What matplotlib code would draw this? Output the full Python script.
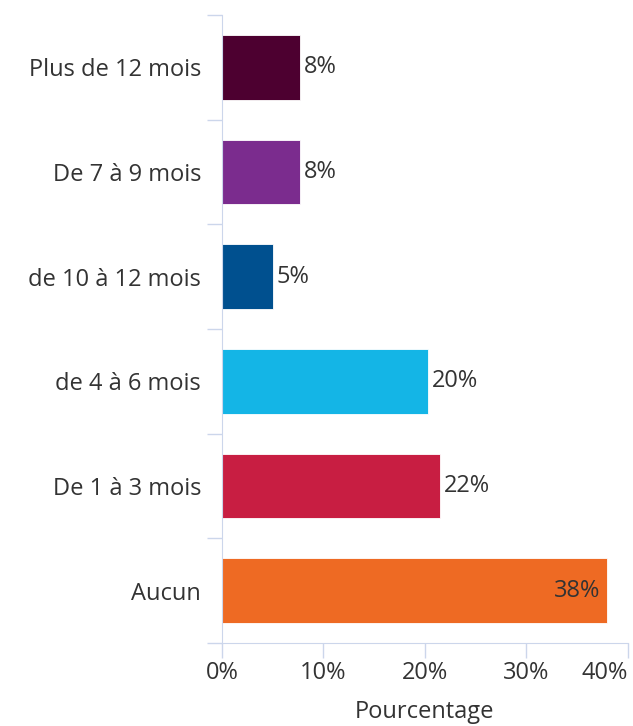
import matplotlib.pyplot as plt

categories = ['Plus de 12 mois', 'De 7 à 9 mois', 'de 10 à 12 mois',
              'de 4 à 6 mois', 'De 1 à 3 mois', 'Aucun']
values = [7.7, 7.7, 5.0, 20.3, 21.5, 37.9]
labels = ['8%', '8%', '5%', '20%', '22%', '38%']
colors = ['#4d0030', '#7b2c8e', '#00508f', '#14b5e6', '#c81e42', '#ee6a23']
xticks = [0, 10, 20, 30, 40]
xticklabels = ['0%', '10%', '20%', '30%', '40%']

plt.rcParams['font.family'] = ['Open Sans', 'DejaVu Sans']
fs = 17
fig = plt.figure(figsize=(6.33, 7.26), dpi=100)
ax = fig.add_axes([0.3507, 0.1143, 0.6414, 0.865])

ypos = list(range(len(categories)))
ax.barh(ypos, values, height=0.62, color=colors, edgecolor='white', linewidth=0.6)
ax.set_ylim(len(categories) - 0.5, -0.5)
ax.set_xlim(0, 40)

for y, v, lab in zip(ypos, values, labels):
    if v > 35:
        ax.text(v - 0.6, y, lab, va='center', ha='right', fontsize=fs, color='#333333')
    else:
        ax.text(v + 0.4, y, lab, va='center', ha='left', fontsize=fs, color='#333333')

axis_col = '#ccd6eb'
for s in ['top', 'right']:
    ax.spines[s].set_visible(False)
ax.spines['left'].set_color(axis_col)
ax.spines['bottom'].set_color(axis_col)

ax.set_yticks(ypos)
ax.set_yticklabels(categories)
ax.set_yticks([i - 0.5 for i in range(len(categories) + 1)], minor=True)
ax.tick_params(axis='y', which='major', length=0, pad=15, labelsize=fs, labelcolor='#333333')
ax.tick_params(axis='y', which='minor', length=11, color=axis_col, width=1)

ax.set_xticks(xticks)
ax.set_xticklabels(xticklabels)
ax.tick_params(axis='x', length=11, color=axis_col, width=1, pad=2, labelsize=fs, labelcolor='#333333')
ax.get_xticklabels()[-1].set_horizontalalignment('right')

ax.set_xlabel('Pourcentage', fontsize=fs, color='#333333', labelpad=11)

fig.savefig('out.png', dpi=100)
